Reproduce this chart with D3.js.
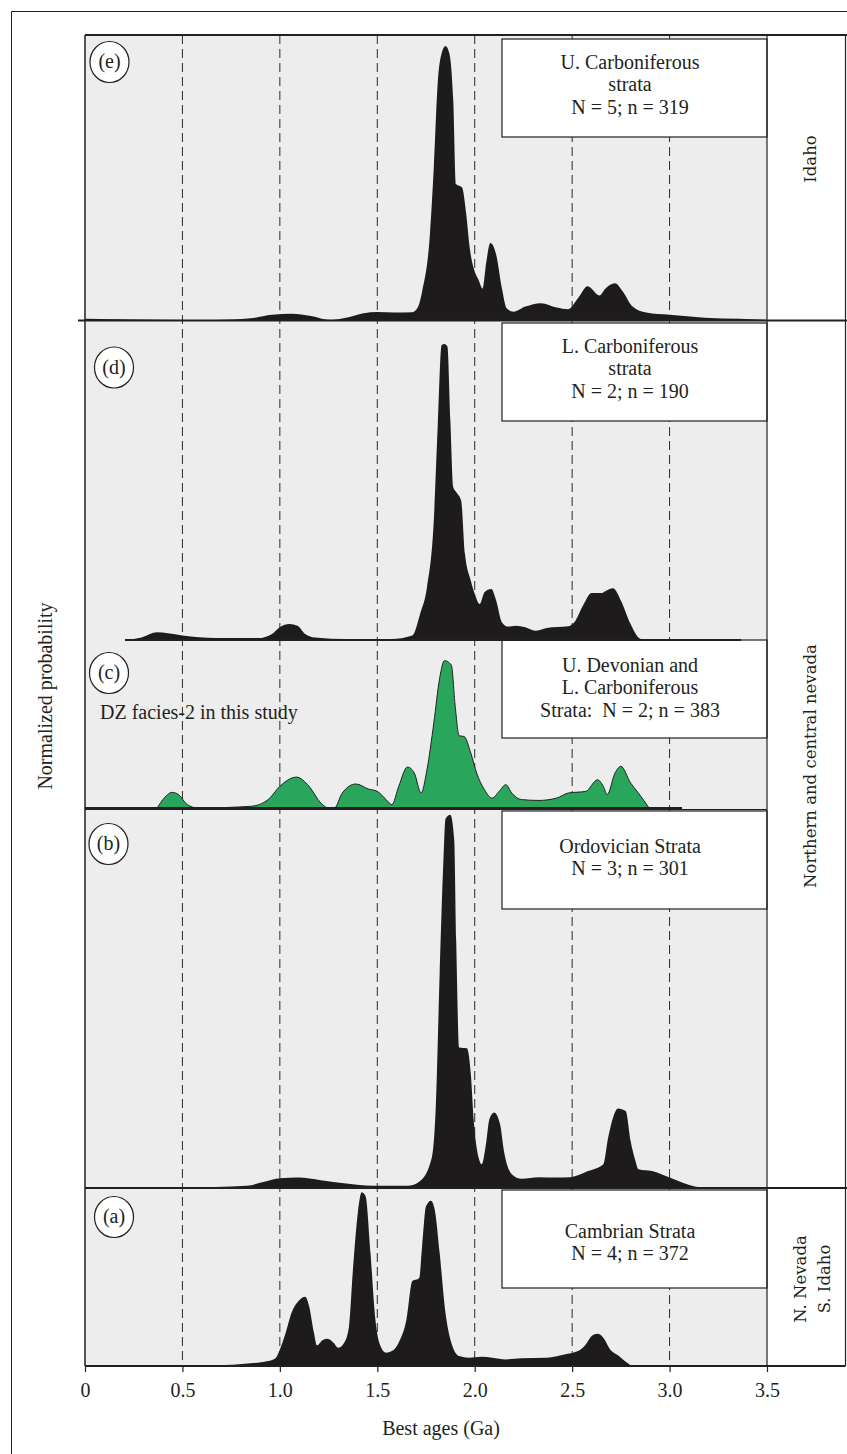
<!DOCTYPE html>
<html><head><meta charset="utf-8">
<script src="https://cdn.jsdelivr.net/npm/d3@7/dist/d3.min.js"></script>
<style>body{margin:0;background:#fff} svg{display:block}</style>
</head><body>
<script>
// ---------------- DATA ----------------
const tickValues = [0, 0.5, 1.0, 1.5, 2.0, 2.5, 3.0, 3.5];
const tickLabels = ["0", "0.5", "1.0", "1.5", "2.0", "2.5", "3.0", "3.5"];
const gridAges = [0.5, 1.0, 1.5, 2.0, 2.5, 3.0];
const panelIds = ["(e)", "(d)", "(c)", "(b)", "(a)"];
const panelTitles = [
  ["U. Carboniferous", "strata", "N = 5; n = 319"],
  ["L. Carboniferous", "strata", "N = 2; n = 190"],
  ["U. Devonian and", "L. Carboniferous", "Strata:  N = 2; n = 383"],
  ["Ordovician Strata", "N = 3; n = 301"],
  ["Cambrian Strata", "N = 4; n = 372"]
];
const regionLabels = [["Idaho"], ["Northern and central nevada"], ["N. Nevada", "S. Idaho"]];
const noteText = "DZ facies-2 in this study";
const xTitle = "Best ages (Ga)";
const yTitle = "Normalized probability";

// (e) U. Carboniferous, Idaho
const agesE = [0, 0.5, 0.67, 0.85, 0.96, 1.06, 1.16, 1.26, 1.34, 1.43, 1.5, 1.59, 1.68, 1.71, 1.73, 1.77, 1.79, 1.81, 1.83, 1.85, 1.87, 1.89, 1.905, 1.935, 1.955, 1.975, 2.0, 2.02, 2.04, 2.06, 2.08, 2.11, 2.14, 2.165, 2.2, 2.26, 2.34, 2.42, 2.48, 2.53, 2.58, 2.64, 2.67, 2.72, 2.76, 2.81, 2.88, 3.0, 3.18, 3.36, 3.5];
const probE = [0.004, 0.0, 0.0, 0.006, 0.018, 0.022, 0.014, 0.0, 0.008, 0.024, 0.028, 0.026, 0.027, 0.047, 0.1, 0.3, 0.535, 0.83, 0.935, 0.961, 0.935, 0.77, 0.476, 0.465, 0.38, 0.25, 0.17, 0.14, 0.11, 0.206, 0.27, 0.23, 0.11, 0.04, 0.029, 0.047, 0.059, 0.044, 0.038, 0.076, 0.118, 0.086, 0.11, 0.129, 0.1, 0.047, 0.026, 0.018, 0.008, 0.004, 0];

// (d) L. Carboniferous
const agesD = [0.21, 0.29, 0.37, 0.425, 0.5, 0.67, 0.89, 0.96, 1.0, 1.05, 1.09, 1.13, 1.18, 1.34, 1.57, 1.68, 1.72, 1.755, 1.79, 1.81, 1.83, 1.845, 1.86, 1.875, 1.89, 1.905, 1.93, 1.95, 1.98, 2.0, 2.025, 2.05, 2.085, 2.11, 2.14, 2.17, 2.21, 2.26, 2.31, 2.37, 2.48, 2.51, 2.56, 2.6, 2.65, 2.67, 2.71, 2.75, 2.8, 2.84, 2.87];
const probD = [0, 0.008, 0.024, 0.021, 0.014, 0.006, 0.006, 0.019, 0.04, 0.05, 0.045, 0.019, 0.008, 0.003, 0.003, 0.014, 0.082, 0.165, 0.375, 0.668, 0.925, 0.928, 0.92, 0.69, 0.48, 0.464, 0.438, 0.27, 0.186, 0.145, 0.113, 0.15, 0.16, 0.124, 0.055, 0.042, 0.045, 0.04, 0.029, 0.038, 0.043, 0.055, 0.113, 0.147, 0.147, 0.153, 0.162, 0.124, 0.05, 0.008, 0];

// (c) U. Devonian and L. Carboniferous (this study)
const agesC = [0.37, 0.40, 0.447, 0.48, 0.525, 0.58, 0.85, 0.94, 1.0, 1.085, 1.15, 1.21, 1.25, 1.28, 1.32, 1.39, 1.455, 1.5, 1.545, 1.575, 1.61, 1.655, 1.69, 1.725, 1.755, 1.79, 1.82, 1.845, 1.88, 1.9, 1.92, 1.945, 1.98, 2.01, 2.05, 2.09, 2.125, 2.16, 2.19, 2.24, 2.33, 2.42, 2.48, 2.57, 2.63, 2.66, 2.68, 2.72, 2.75, 2.8, 2.84, 2.895];
const probC = [0, 0.05, 0.093, 0.08, 0.02, 0, 0.01, 0.05, 0.129, 0.184, 0.129, 0.03, 0, 0, 0.089, 0.143, 0.113, 0.099, 0.05, 0.02, 0.129, 0.244, 0.208, 0.089, 0.228, 0.505, 0.772, 0.877, 0.851, 0.604, 0.43, 0.426, 0.327, 0.208, 0.109, 0.059, 0.099, 0.139, 0.089, 0.05, 0.045, 0.059, 0.089, 0.099, 0.168, 0.129, 0.08, 0.208, 0.248, 0.149, 0.089, 0];

// (b) Ordovician
const agesB = [0, 0.67, 0.83, 0.92, 1.0, 1.095, 1.21, 1.34, 1.475, 1.655, 1.72, 1.78, 1.80, 1.82, 1.84, 1.85, 1.875, 1.895, 1.905, 1.92, 1.96, 1.98, 1.995, 2.02, 2.035, 2.06, 2.075, 2.1, 2.13, 2.15, 2.19, 2.24, 2.33, 2.42, 2.49, 2.57, 2.66, 2.685, 2.71, 2.735, 2.775, 2.8, 2.825, 2.84, 2.91, 3.0, 3.09, 3.15, 3.5];
const probB = [0, 0, 0.003, 0.014, 0.023, 0.025, 0.018, 0.009, 0.003, 0.003, 0.016, 0.078, 0.21, 0.563, 0.872, 0.974, 0.985, 0.916, 0.651, 0.369, 0.367, 0.298, 0.175, 0.078, 0.06, 0.122, 0.179, 0.197, 0.166, 0.095, 0.034, 0.022, 0.026, 0.025, 0.026, 0.04, 0.06, 0.131, 0.184, 0.208, 0.201, 0.122, 0.069, 0.047, 0.042, 0.025, 0.007, 0, 0];

// (a) Cambrian
const agesA = [0, 0.67, 0.85, 0.94, 0.98, 1.0, 1.03, 1.06, 1.095, 1.13, 1.15, 1.175, 1.19, 1.22, 1.245, 1.275, 1.3, 1.33, 1.355, 1.375, 1.4, 1.42, 1.44, 1.465, 1.49, 1.51, 1.545, 1.575, 1.61, 1.65, 1.68, 1.715, 1.73, 1.75, 1.775, 1.795, 1.82, 1.85, 1.88, 1.92, 1.97, 2.035, 2.09, 2.16, 2.24, 2.37, 2.46, 2.53, 2.57, 2.6, 2.63, 2.66, 2.695, 2.74, 2.77, 2.805];
const probA = [0, 0.004, 0.015, 0.028, 0.047, 0.093, 0.187, 0.299, 0.364, 0.389, 0.336, 0.187, 0.116, 0.146, 0.153, 0.131, 0.103, 0.131, 0.224, 0.542, 0.86, 0.976, 0.953, 0.636, 0.262, 0.131, 0.075, 0.084, 0.131, 0.262, 0.477, 0.493, 0.673, 0.897, 0.929, 0.877, 0.636, 0.299, 0.131, 0.056, 0.047, 0.052, 0.047, 0.037, 0.043, 0.047, 0.065, 0.084, 0.121, 0.168, 0.181, 0.159, 0.093, 0.056, 0.028, 0];

const panelSeries = [[agesE, probE], [agesD, probD], [agesC, probC], [agesB, probB], [agesA, probA]];

// ---------------- LAYOUT ----------------
const W = 847, H = 1454;
const FONT = "'Liberation Serif', 'Times New Roman', serif";
const FONT2 = "'DejaVu Serif', serif";
const INK = "#231f20";
const X0 = 85, X1 = 767, RC = 845.5, TOP = 35, BOT = 1366;
const geom = [
  {top: 35, base: 320, circ: [109.5, 62], text0: 69},
  {top: 321, base: 640, circ: [114, 367.5], text0: 353},
  {top: 640, base: 808, circ: [109, 673], text0: 672},
  {top: 809, base: 1187, circ: [108.5, 844], text0: 853},
  {top: 1188, base: 1366, circ: [114, 1217], text0: 1238}
];
const boxes = [[39, 137], [323, 421], [640, 738], [811, 909], [1190, 1288]];
const boxFrom = 2.14;
const fills = ["#1d1b1c", "#1d1b1c", "#2aa65c", "#1d1b1c", "#1d1b1c"];

const svg = d3.select("body").append("svg").attr("width", W).attr("height", H)
  .style("font-family", FONT);

const x = d3.scaleLinear().domain([0, 3.5]).range([X0, X1]);

// plot background
svg.append("rect").attr("x", X0).attr("y", TOP).attr("width", X1 - X0).attr("height", BOT - TOP)
  .attr("fill", "#ededed");

// dashed gridlines
svg.append("g").selectAll("line").data(gridAges).join("line")
  .attr("x1", d => x(d)).attr("x2", d => x(d))
  .attr("y1", TOP).attr("y2", BOT)
  .attr("stroke", "#2a2a2a").attr("stroke-width", 1).attr("stroke-dasharray", "9,5");

// label boxes
svg.append("g").selectAll("rect").data(boxes).join("rect")
  .attr("x", x(boxFrom)).attr("y", d => d[0])
  .attr("width", X1 - x(boxFrom)).attr("height", d => d[1] - d[0])
  .attr("fill", "#fff").attr("stroke", INK).attr("stroke-width", 1.2);

// curves
panelSeries.forEach((s, i) => {
  const g = geom[i];
  const y = d3.scaleLinear().domain([0, 1]).range([g.base, g.top]);
  const pts = s[0].map((a, k) => [a, s[1][k]]);
  const area = d3.area().x(d => x(d[0])).y0(g.base).y1(d => y(d[1])).curve(d3.curveMonotoneX);
  svg.append("path").datum(pts).attr("d", area)
    .attr("fill", fills[i])
    .attr("stroke", i === 2 ? "#222" : "none")
    .attr("stroke-width", 1);
});

// frame and separator lines
const lines = [
  // [x1, y1, x2, y2, width]
  [11.5, 11.5, W, 11.5, 1],
  [11.5, 11.5, 11.5, H, 1],
  [X0, TOP, X0, BOT, 1.5],
  [X0, TOP, W, TOP, 2],
  [X1, TOP, X1, BOT, 1.2],
  [RC, TOP, RC, BOT, 1.2],
  [78, 320.5, W, 320.5, 2],
  [125, 640, 741, 640, 2],
  [X0, 808, 682, 808, 2],
  [X0, 809.5, X1, 809.5, 1],
  [X0, 1188, W, 1188, 2],
  [X0, BOT, RC, BOT, 2]
];
svg.append("g").selectAll("line").data(lines).join("line")
  .attr("x1", d => d[0]).attr("y1", d => d[1]).attr("x2", d => d[2]).attr("y2", d => d[3])
  .attr("stroke", INK).attr("stroke-width", d => d[4]);

// x axis
const axis = d3.axisBottom(x).tickValues(tickValues)
  .tickFormat((d, i) => tickLabels[i]).tickSize(6).tickPadding(11);
const ax = svg.append("g").attr("transform", `translate(0,${BOT})`).call(axis);
ax.select(".domain").remove();
ax.selectAll(".tick line").attr("stroke", INK).attr("stroke-width", 1.2);
ax.selectAll(".tick text").attr("fill", INK).style("font-family", FONT).style("font-size", "20px");

svg.append("text").attr("x", 441).attr("y", 1434.5).attr("text-anchor", "middle")
  .attr("fill", INK).style("font-size", "20px").text(xTitle);

svg.append("text").attr("transform", "translate(52,696) rotate(-90)").attr("text-anchor", "middle")
  .attr("fill", INK).style("font-size", "20px").text(yTitle);

// panel circles and titles
geom.forEach((g, i) => {
  svg.append("ellipse").attr("cx", g.circ[0]).attr("cy", g.circ[1]).attr("rx", 19.5).attr("ry", 20.5)
    .attr("fill", "#fff").attr("stroke", INK).attr("stroke-width", 1.2);
  svg.append("text").attr("x", g.circ[0]).attr("y", g.circ[1] + 6).attr("text-anchor", "middle")
    .attr("fill", INK).style("font-size", "20px").text(panelIds[i]);
  panelTitles[i].forEach((t, k) => {
    svg.append("text").attr("x", 630).attr("y", g.text0 + k * 22.3).attr("text-anchor", "middle")
      .attr("fill", INK).style("font-size", "20px").style("white-space", "pre")
      .attr("xml:space", "preserve").text(t);
  });
});

svg.append("text").attr("x", 100).attr("y", 719).attr("fill", INK).style("font-size", "20px").text(noteText);

// right column region labels
const regionPos = [[[816, 159]], [[816, 766]], [[806, 1279], [830, 1279]]];
regionLabels.forEach((labs, i) => {
  labs.forEach((t, k) => {
    const p = regionPos[i][k];
    svg.append("text").attr("transform", `translate(${p[0]},${p[1]}) rotate(-90)`)
      .attr("text-anchor", "middle").attr("fill", INK)
      .style("font-family", FONT2).style("font-size", "16.5px").text(t);
  });
});
</script>
</body></html>
